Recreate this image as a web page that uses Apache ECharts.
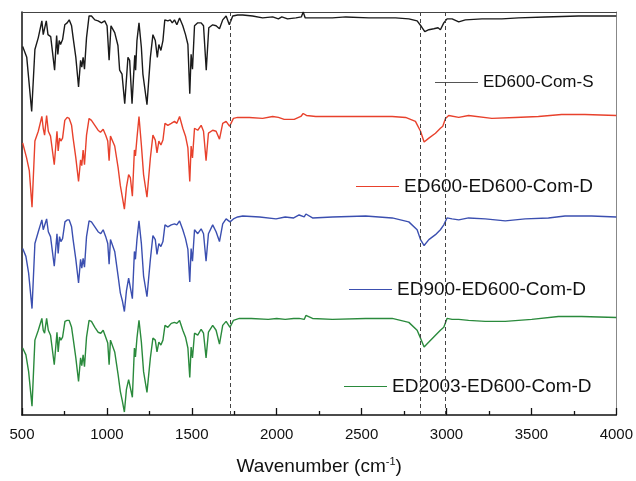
<!DOCTYPE html>
<html>
<head>
<meta charset="utf-8">
<script src="https://cdn.jsdelivr.net/npm/echarts@6/dist/echarts.min.js"></script>
<style>
  html, body { margin: 0; padding: 0; background: #fff; }
  #chart { width: 636px; height: 481px; }
</style>
</head>
<body>
<div id="chart"></div>
<script>
// FTIR spectra, stacked with vertical offsets (arbitrary transmittance units)
const seriesNames = ['ED600-Com-S', 'ED600-ED600-Com-D', 'ED900-ED600-Com-D', 'ED2003-ED600-Com-D'];
const seriesColors = ['#1a1a1a', '#e8412c', '#3b4fb0', '#2a8a3c'];
const xTicks = [500, 1000, 1500, 2000, 2500, 3000, 3500, 4000];
const markedBands = [1725, 2843, 2994];

// [wavenumber (cm-1), offset transmittance]
const specComS = [[504,374],[528,363],[557,308],[576,371],[596,383],[606,384],[617,400],[625,386],[633,385],[643,400],[653,386],[669,384],[674,385],[692,350],[704,385],[711,366],[719,380],[727,376],[739,381],[752,396],[766,398],[778,401],[792,395],[801,383],[817,363],[833,333],[845,360],[852,353],[860,363],[868,351],[880,383],[895,405],[909,405],[929,401],[948,400],[968,398],[987,400],[1001,395],[1013,360],[1024,395],[1046,388],[1065,375],[1075,350],[1089,346],[1105,316],[1124,363],[1134,360],[1148,316],[1164,365],[1169,350],[1177,380],[1189,398],[1203,373],[1212,346],[1236,315],[1256,363],[1271,386],[1285,380],[1297,363],[1306,376],[1318,370],[1330,380],[1341,401],[1359,400],[1373,401],[1385,398],[1398,401],[1412,396],[1428,403],[1447,395],[1463,386],[1477,376],[1488,326],[1496,366],[1504,351],[1516,395],[1535,398],[1555,398],[1569,395],[1585,350],[1600,393],[1623,396],[1643,395],[1663,392],[1682,401],[1702,405],[1721,396],[1741,405],[1770,406],[1800,406],[1858,405],[1917,403],[1976,404],[2010,402],[2030,404],[2064,402],[2113,403],[2145,404],[2156,409],[2168,403],[2230,403],[2328,403],[2407,404],[2543,403],[2700,403],[2778,402],[2827,400],[2853,394],[2872,389],[2896,391],[2925,392],[2950,393],[2964,391],[2984,398],[3003,402],[3033,402],[3072,399],[3111,401],[3209,402],[3326,402],[3424,403],[3581,404],[3777,405],[4000,405]];

const specEd600D = [[504,276],[527,261],[543,248],[559,211],[576,278],[596,288],[606,289],[617,303],[625,291],[633,284],[645,304],[655,288],[668,283],[674,284],[690,254],[706,288],[713,268],[721,281],[729,278],[739,281],[752,299],[766,302],[778,301],[792,294],[801,281],[817,261],[833,237],[845,259],[852,253],[860,269],[868,254],[880,284],[895,301],[909,299],[929,294],[948,289],[962,287],[978,290],[993,284],[1005,278],[1013,258],[1021,283],[1046,273],[1066,251],[1079,233],[1091,221],[1103,209],[1115,231],[1128,244],[1138,241],[1150,222],[1162,269],[1168,263],[1177,281],[1189,303],[1203,274],[1216,244],[1236,221],[1256,261],[1271,284],[1285,279],[1295,266],[1306,278],[1318,274],[1330,279],[1342,296],[1359,294],[1379,296],[1398,298],[1412,296],[1428,303],[1447,291],[1463,283],[1477,271],[1488,237],[1496,273],[1504,261],[1516,291],[1535,289],[1555,294],[1569,288],[1584,258],[1598,286],[1623,289],[1643,288],[1663,280],[1682,296],[1702,298],[1723,293],[1745,301],[1770,302],[1839,302],[1917,301],[1976,303],[2010,302],[2044,300],[2103,300],[2142,303],[2156,306],[2175,304],[2230,303],[2328,303],[2504,303],[2680,303],[2759,302],[2817,298],[2847,288],[2868,277],[2896,281],[2935,286],[2964,291],[2978,293],[2994,301],[3013,304],[3072,302],[3130,304],[3267,301],[3404,302],[3541,303],[3678,305],[3815,305],[4000,304]];

const specEd900D = [[504,169],[523,161],[539,144],[559,108],[576,174],[596,186],[606,188],[617,198],[625,188],[633,186],[645,199],[655,186],[668,181],[676,183],[690,151],[706,184],[713,164],[721,181],[729,176],[739,179],[753,196],[766,198],[778,198],[792,191],[801,178],[817,158],[833,134],[845,158],[852,149],[860,159],[868,150],[880,181],[895,197],[909,196],[929,191],[948,186],[964,184],[978,188],[993,181],[1005,174],[1013,153],[1021,178],[1046,166],[1066,141],[1079,124],[1091,116],[1103,105],[1115,126],[1128,139],[1138,138],[1150,118],[1162,166],[1168,158],[1177,178],[1189,197],[1203,174],[1216,141],[1236,120],[1256,158],[1271,182],[1285,178],[1295,163],[1306,174],[1318,171],[1330,176],[1342,193],[1359,191],[1379,193],[1398,194],[1412,193],[1428,197],[1447,188],[1463,179],[1477,168],[1488,135],[1496,169],[1504,156],[1516,188],[1535,184],[1555,189],[1569,184],[1584,156],[1598,184],[1623,193],[1643,186],[1663,176],[1682,194],[1702,199],[1725,196],[1745,199],[1770,201],[1800,202],[1900,201],[1996,199],[2050,201],[2100,200],[2132,203],[2162,201],[2172,204],[2211,200],[2328,201],[2524,202],[2680,200],[2778,196],[2827,188],[2847,178],[2868,172],[2896,178],[2935,183],[2964,188],[2984,193],[3003,200],[3033,199],[3072,198],[3130,200],[3228,199],[3346,197],[3463,199],[3600,200],[3698,202],[3855,202],[4000,201]];

const specEd2003D = [[504,68],[523,61],[539,44],[559,9],[576,76],[596,86],[606,87],[617,98],[625,86],[633,83],[645,98],[655,86],[668,81],[676,83],[690,51],[706,84],[713,64],[721,79],[729,76],[739,79],[753,95],[766,96],[778,96],[792,89],[801,78],[817,58],[833,34],[845,58],[852,50],[860,61],[868,49],[880,79],[895,96],[909,95],[929,89],[948,84],[964,83],[978,86],[993,79],[1005,73],[1013,51],[1021,76],[1046,64],[1066,41],[1079,24],[1091,14],[1103,3],[1115,26],[1128,36],[1138,34],[1150,18],[1162,68],[1168,59],[1177,78],[1189,96],[1203,74],[1216,44],[1236,23],[1256,58],[1271,78],[1285,76],[1295,64],[1306,74],[1318,71],[1330,76],[1342,91],[1359,89],[1379,93],[1398,94],[1412,93],[1428,96],[1447,86],[1463,79],[1477,68],[1488,38],[1496,69],[1504,58],[1516,83],[1535,81],[1555,87],[1569,83],[1584,58],[1598,84],[1623,91],[1643,86],[1663,72],[1682,91],[1702,95],[1725,89],[1745,96],[1780,98],[1850,98],[1950,97],[2000,98],[2050,97],[2100,98],[2132,98],[2162,97],[2172,101],[2211,98],[2328,97],[2524,98],[2680,98],[2778,94],[2827,86],[2847,78],[2868,69],[2896,74],[2935,81],[2964,86],[2984,89],[3003,98],[3033,97],[3072,97],[3130,96],[3228,95],[3346,95],[3502,97],[3659,100],[3796,100],[4000,99]];

const spectra = [specComS, specEd600D, specEd900D, specEd2003D];

const FONT = '"Liberation Sans", Arial, Helvetica, sans-serif';
const chart = echarts.init(document.getElementById('chart'), null, { renderer: 'canvas' });

// one legend block per trace, placed in the gap beneath it
const legendSpots = [
  { left: 435, top: 74, size: 17, swatch: '#555' },
  { left: 356, top: 177, size: 19, swatch: seriesColors[1] },
  { left: 349, top: 280, size: 19, swatch: seriesColors[2] },
  { left: 344, top: 377, size: 19, swatch: seriesColors[3] }
];

const series = spectra.map((d, i) => ({
  name: seriesNames[i],
  type: 'line',
  data: d,
  symbol: 'none',
  smooth: false,
  color: seriesColors[i],
  lineStyle: { width: 1.4, color: seriesColors[i] },
  z: 3,
  animation: false
}));

series[0].markLine = {
  silent: true,
  symbol: 'none',
  label: { show: false },
  lineStyle: { type: [4, 3], color: '#444', width: 1 },
  data: markedBands.map(v => ({ xAxis: v })),
  animation: false
};

chart.setOption({
  backgroundColor: '#fff',
  animation: false,
  grid: { left: 22, right: 18, top: 12, bottom: 60 },
  legend: seriesNames.map((n, i) => ({
    data: [{ name: n, itemStyle: { color: legendSpots[i].swatch } }],
    left: legendSpots[i].left,
    top: legendSpots[i].top,
    icon: 'rect',
    itemWidth: 43,
    itemHeight: 1.2,
    padding: 0,
    selectedMode: false,
    textStyle: { fontSize: legendSpots[i].size, color: '#111', fontFamily: FONT }
  })),
  xAxis: [{
    type: 'value',
    min: xTicks[0],
    max: xTicks[xTicks.length - 1],
    interval: 500,
    position: 'bottom',
    axisLine: { show: true, lineStyle: { color: '#111', width: 1.5 } },
    axisTick: { show: true, inside: true, length: 7, lineStyle: { color: '#111', width: 1.3 } },
    minorTick: { show: true, splitNumber: 2, length: 4, lineStyle: { color: '#111', width: 1.3 } },
    splitLine: { show: false },
    axisLabel: { fontSize: 15, color: '#111', fontFamily: FONT, margin: 12, formatter: v => String(v) },
    name: '{t|Wavenumber (cm}{s|-1}{t|)}',
    nameLocation: 'middle',
    nameGap: 41,
    nameTextStyle: {
      rich: {
        t: { fontSize: 19, color: '#111', fontFamily: FONT },
        s: { fontSize: 11, color: '#111', fontFamily: FONT, verticalAlign: 'top', padding: [0, 0, 10, 0] }
      }
    }
  }, {
    type: 'value',
    min: xTicks[0],
    max: xTicks[xTicks.length - 1],
    position: 'top',
    axisLine: { show: true, onZero: false, lineStyle: { color: '#444', width: 1.2 } },
    axisTick: { show: false },
    axisLabel: { show: false },
    splitLine: { show: false }
  }],
  yAxis: [{
    type: 'value',
    min: 0,
    max: 409,
    position: 'left',
    axisLine: { show: true, onZero: false, lineStyle: { color: '#111', width: 1.5 } },
    axisTick: { show: false },
    axisLabel: { show: false },
    splitLine: { show: false }
  }, {
    type: 'value',
    min: 0,
    max: 409,
    position: 'right',
    axisLine: { show: true, onZero: false, lineStyle: { color: '#888', width: 1 } },
    axisTick: { show: false },
    axisLabel: { show: false },
    splitLine: { show: false }
  }],
  series: series
});
</script>
</body>
</html>
